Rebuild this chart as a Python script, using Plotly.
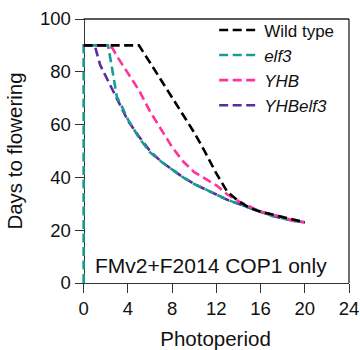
import plotly.graph_objects as go

# Data (photoperiod in hours, days to flowering)
wt_x = [0, 1, 2, 3, 4, 5, 6, 7, 8, 9, 10, 11, 12, 13, 14, 15, 16, 17, 18, 19, 20]
wt_y = [90, 90, 90, 90, 90, 90, 83.5, 77, 70.5, 64, 57, 49.5, 41.5, 34.5, 31, 28.5, 27, 26, 25, 24, 23]

elf3_x = [0, 0, 1, 2, 2.2, 2.5, 3, 3.5, 4, 5, 6, 7, 8, 9, 10, 11, 12, 13, 14, 15, 16, 17, 18, 19, 20]
elf3_y = [0, 90, 90, 90, 90, 83, 70.5, 66.5, 62, 55, 49.5, 46, 43, 40, 37.5, 35.5, 33.5, 31.5, 30, 28.5, 27, 25.5, 24.5, 23.5, 23]

yhb_x = [0, 1, 2, 2.2, 2.6, 3, 4, 5, 6, 7, 8, 9, 10, 11, 12, 13, 14, 15, 16, 17, 18, 19, 20]
yhb_y = [90, 90, 90, 90, 89, 86, 79.5, 73, 65, 58.5, 51.5, 46, 42, 39.5, 37, 33.5, 31, 29, 27, 26, 25, 23.5, 23]

yhbelf3_x = [0, 1, 1.5, 2, 2.5, 3, 3.5, 4, 5, 6, 7, 8, 9, 10, 11, 12, 13, 14, 15, 16, 17, 18, 19, 20]
yhbelf3_y = [90, 90, 82.5, 78.3, 74.5, 70, 65.5, 61.5, 55.5, 50, 46, 43, 40, 37.5, 35.5, 33.5, 31.5, 30, 28.5, 27, 25.5, 24.5, 23.5, 23]

x_ticks = [0, 4, 8, 12, 16, 20, 24]
y_ticks = [0, 20, 40, 60, 80, 100]

FONT = "Liberation Sans, Arial, sans-serif"
DASH = "9px,4.5px"
LW = 2.6

fig = go.Figure()
# draw order: purple, teal, pink, black (black on top); legend order via legendrank
fig.add_trace(go.Scatter(x=yhbelf3_x, y=yhbelf3_y, mode="lines", name="<i>YHBelf3</i>",
                         line=dict(color="#5b2c9e", width=LW, dash=DASH), legendrank=4))
fig.add_trace(go.Scatter(x=elf3_x, y=elf3_y, mode="lines", name="<i>elf3</i>",
                         line=dict(color="#1a9a94", width=LW, dash=DASH), legendrank=2))
fig.add_trace(go.Scatter(x=yhb_x, y=yhb_y, mode="lines", name="<i>YHB</i>",
                         line=dict(color="#ff3399", width=LW, dash=DASH), legendrank=3))
fig.add_trace(go.Scatter(x=wt_x, y=wt_y, mode="lines", name="Wild type",
                         line=dict(color="#000000", width=LW, dash=DASH), legendrank=1))

x0 = -0.15
xpos = (0 - x0) / (24 - x0)

fig.update_layout(
    width=360, height=350,
    margin=dict(l=82.35, r=11, t=19, b=66.7, autoexpand=False),
    paper_bgcolor="white", plot_bgcolor="white",
    font=dict(family=FONT, size=18.5, color="#111"),
    showlegend=True,
    legend=dict(x=0.495, xanchor="left", y=1.025, yanchor="top",
                font=dict(size=17, color="#111"), bgcolor="rgba(0,0,0,0)",
                tracegroupgap=0, itemwidth=40),
    xaxis=dict(range=[x0, 24], tickvals=x_ticks, ticks="outside", ticklen=9, tickwidth=1.3,
               tickcolor="#333", showline=True, linecolor="#333", linewidth=1.3,
               showgrid=False, zeroline=False, layer="below traces", automargin=False,
               title=dict(text="Photoperiod", standoff=14, font=dict(size=20.5)),
               tickfont=dict(size=18.5)),
    yaxis=dict(range=[0, 100], tickvals=y_ticks, ticks="outside", ticklen=9, tickwidth=1.3,
               tickcolor="#333", showline=True, linecolor="#333", linewidth=1.3,
               showgrid=False, zeroline=False, layer="below traces", automargin=False,
               anchor="free", position=xpos,
               title=dict(text="Days to flowering", standoff=10, font=dict(size=20.5)),
               tickfont=dict(size=18.5)),
    shapes=[
        dict(type="line", xref="paper", yref="paper", x0=xpos, x1=1, y0=1, y1=1,
             line=dict(color="#222", width=1.3)),
        dict(type="line", xref="paper", yref="paper", x0=1, x1=1, y0=0, y1=1,
             line=dict(color="#222", width=1.3)),
    ],
    annotations=[
        dict(text="FMv2+F2014 COP1 only", x=11.5, y=6.5, xref="x", yref="y",
             showarrow=False, xanchor="center", yanchor="middle",
             font=dict(size=21, color="#111")),
    ],
)

fig.write_html("out.html")
